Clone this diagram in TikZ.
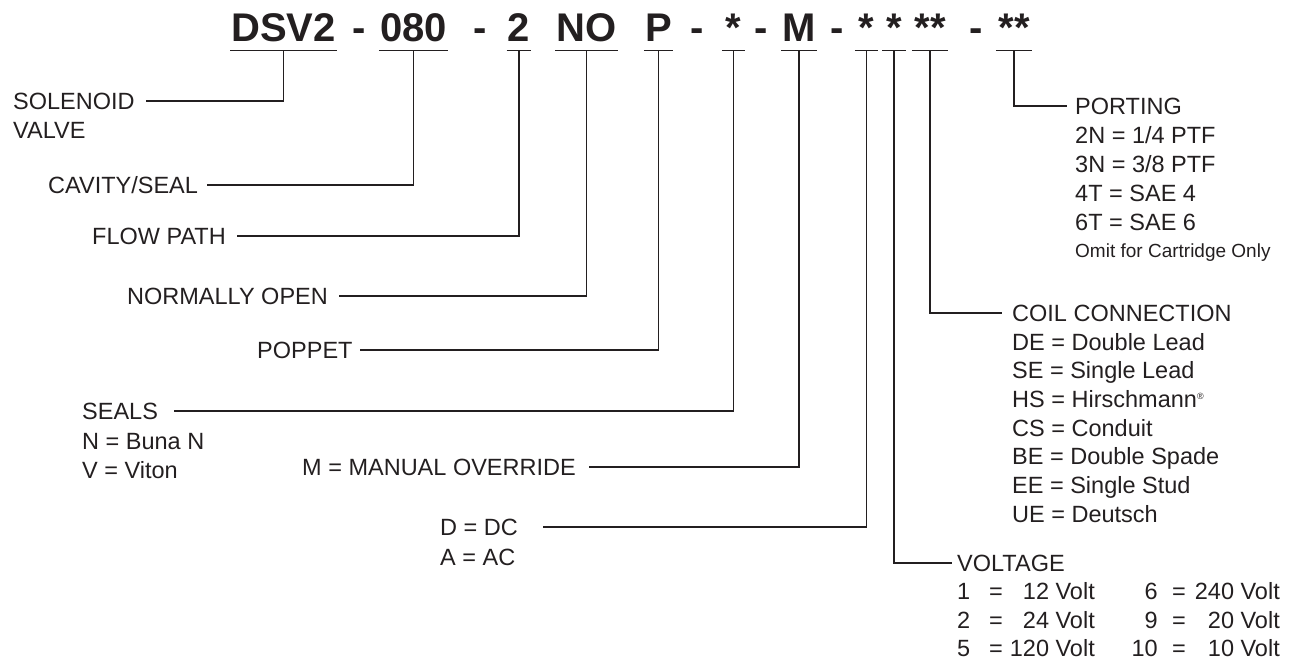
\documentclass[tikz,border=0pt]{standalone}
\usepackage{fontspec}
\setmainfont{Liberation Sans}
\usetikzlibrary{positioning}
\definecolor{ink}{HTML}{231F20}
\tikzset{
    code/.style={
        font=\fontsize{40}{40}\selectfont\bfseries,
        text=ink,
        anchor=base,
        inner xsep=1pt,
        inner ysep=8pt,
        text depth=0pt
    },
    hyph/.style={
        code,
        inner ysep=0pt
    },
    heading/.style={
        font=\fontsize{23.5}{28.8}\selectfont,
        text=ink,
        inner sep=0pt,
        text height=16.8pt,
        text depth=0pt,
        anchor=west
    },
    entry/.style={
        heading
    },
    small/.style={
        heading,
        font=\fontsize{19}{23}\selectfont,
        text height=13.6pt
    },
    lead/.style={
        draw=ink,
        line width=1.1pt
    },
    uline/.style={
        draw=ink,
        line width=1.1pt
    }
}

\begin{document}
\begin{tikzpicture}[x=1pt,y=-1pt]
\useasboundingbox (0,0) rectangle (1291,661);

% Model code
\node[code] (dsv) at (283.5,42) {DSV2};
\node[hyph] (h1) at (359.5,42) {-};
\node[code] (cav) at (413.5,42) {080};
\node[hyph] (h2) at (480,42) {-};
\node[code] (flw) at (519,42) {2};
\node[code] (nop) at (586.5,42) {NO};
\node[code] (pop) at (658.5,42) {P};
\node[hyph] (h3) at (697.5,42) {-};
\node[code, minimum width=23pt] (sea) at (733.5,42) {*};
\node[hyph] (h4) at (761.5,42) {-};
\node[code] (mov) at (799,42) {M};
\node[hyph] (h5) at (837.5,42) {-};
\node[code, minimum width=23pt] (cur) at (866.5,42) {*};
\node[code, minimum width=23pt] (vol) at (894,42) {*};
\node[code, minimum width=36pt] (con) at (930,42) {**};
\node[hyph] (h6) at (976.5,42) {-};
\node[code, minimum width=36pt] (prt) at (1014,42) {**};

\foreach \n in {dsv,cav,flw,nop,pop,sea,mov,cur,vol,con,prt}
    \draw[uline] (\n.south west) -- (\n.south east);

% Left side
\node[heading] (sol) at (13,101) {SOLENOID};
\node[entry] (valve) at ([shift={(0,29)}]sol.west) {VALVE};
\node[heading] (cavity) at (48,185) {CAVITY/SEAL};
\node[heading] (flow) at (92,236) {FLOW PATH};
\node[heading] (nopen) at (127,296) {NORMALLY OPEN};
\node[heading] (poppet) at (257,350) {POPPET};
\node[heading] (seals) at (82,411) {SEALS};
\node[entry] (buna) at ([shift={(0,30)}]seals.west) {N = Buna N};
\node[entry] (viton) at ([shift={(0,59)}]seals.west) {V = Viton};
\node[heading] (manual) at (302,467) {M = MANUAL OVERRIDE};
\node[heading] (dc) at (440,527) {D = DC};
\node[entry] (ac) at ([shift={(0,30)}]dc.west) {A = AC};

\draw[lead] (dsv.south) |- ([xshift=11pt]sol.east);
\draw[lead] (cav.south) |- ([xshift=9pt]cavity.east);
\draw[lead] (flw.south) |- ([xshift=11pt]flow.east);
\draw[lead] (nop.south) |- ([xshift=11pt]nopen.east);
\draw[lead] (pop.south) |- ([xshift=7pt]poppet.east);
\draw[lead] (sea.south) |- ([xshift=16pt]seals.east);
\draw[lead] (mov.south) |- ([xshift=13pt]manual.east);
\draw[lead] (cur.south) |- ([xshift=25pt]dc.east);

% Porting
\node[heading] (port) at (1075,106) {PORTING};
\foreach \t [count=\i] in {2N = 1/4 PTF, 3N = 3/8 PTF, 4T = SAE 4, 6T = SAE 6}
    \node[entry] (port\i) at ([shift={(0,\i*29)}]port.west) {\t};
\node[small] (omit) at ([shift={(0,145)}]port.west) {Omit for Cartridge Only};
\draw[lead] (prt.south) |- ([xshift=-8pt]port.west);

% Coil connection
\node[heading] (coil) at (1012,313) {COIL CONNECTION};
\foreach \t [count=\i] in {DE = Double Lead, SE = Single Lead,
    {HS = Hirschmann\raisebox{8pt}{\fontsize{9}{9}\selectfont ®}},
    CS = Conduit, BE = Double Spade, EE = Single Stud, UE = Deutsch}
    \node[entry] (coil\i) at ([shift={(0,\i*28.7)}]coil.west) {\t};
\draw[lead] (con.south) |- ([xshift=-10pt]coil.west);

% Voltage
\node[heading] (volt) at (957,563) {VOLTAGE};
\foreach \na/\nb/\nc/\nd [count=\i] in {1/12/6/240, 2/24/9/20, 5/120/10/10} {
    \node[entry] (va\i) at ([shift={(0,\i*28.4)}]volt.west) {\na};
    \node[entry, anchor=center] (vq\i) at ([shift={(39,\i*28.4)}]volt.west) {=};
    \node[entry, anchor=east] (vb\i) at ([shift={(138,\i*28.4)}]volt.west) {\nb\ Volt};
    \node[entry, anchor=east] (vc\i) at ([shift={(201,\i*28.4)}]volt.west) {\nc};
    \node[entry, anchor=center] (vr\i) at ([shift={(222,\i*28.4)}]volt.west) {=};
    \node[entry, anchor=east] (vd\i) at ([shift={(323,\i*28.4)}]volt.west) {\nd\ Volt};
}
\draw[lead] (vol.south) |- ([xshift=-5pt]volt.west);

\end{tikzpicture}
\end{document}
